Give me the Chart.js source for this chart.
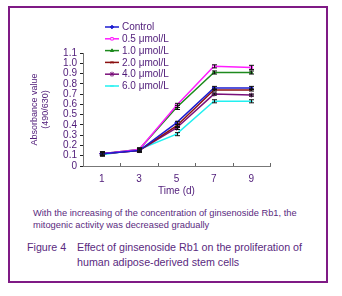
<!DOCTYPE html>
<html>
<head>
<meta charset="utf-8">
<script src="https://cdn.jsdelivr.net/npm/chart.js@4/dist/chart.umd.min.js"></script>
<style>
    body { margin: 0; background: #fff; }
    #wrap { position: relative; width: 342px; height: 296px; font-family: "Liberation Sans", Arial, sans-serif; }
    #frame { position: absolute; left: 8px; top: 6px; width: 320px; height: 277px; border: 2px solid #7f1a85; box-sizing: border-box; }
    #plot { position: absolute; left: 0; top: 0; width: 342px; height: 205px; }
    .note { position: absolute; left: 33px; top: 207px; font-size: 9.3px; line-height: 12px; color: #5a2a80; white-space: nowrap; }
    .fig { position: absolute; font-size: 10.7px; line-height: 15px; color: #5a2a80; white-space: nowrap; }
</style>
</head>
<body>
<div id="wrap">
    <div id="frame"></div>
    <div id="plot"><canvas id="growthChart"></canvas></div>
    <div class="note">With the increasing of the concentration of ginsenoside Rb1, the<br>mitogenic activity was decreased gradually</div>
    <div class="fig" style="left:27px; top:240px;">Figure 4</div>
    <div class="fig" style="left:77px; top:240px;">Effect of ginsenoside Rb1 on the proliferation of<br>human adipose-derived stem cells</div>
</div>
<script>
// Chart data
const days = ['1', '3', '5', '7', '9'];
const yTicks = [0, 0.1, 0.2, 0.3, 0.4, 0.5, 0.6, 0.7, 0.8, 0.9, 1.0, 1.1];

const seriesNames = ['Control', '0.5 \u03bcmol/L', '1.0 \u03bcmol/L', '2.0 \u03bcmol/L', '4.0 \u03bcmol/L', '6.0 \u03bcmol/L'];

const control  = [0.12, 0.15, 0.42, 0.76, 0.76];
const dose05   = [0.12, 0.16, 0.59, 0.97, 0.96];
const dose10   = [0.12, 0.16, 0.57, 0.91, 0.91];
const dose20   = [0.12, 0.15, 0.39, 0.74, 0.74];
const dose40   = [0.12, 0.15, 0.37, 0.70, 0.69];
const dose60   = [0.11, 0.16, 0.31, 0.63, 0.63];

const errControl = [0.02, 0.015, 0.015, 0.015, 0.015];
const err05      = [0.015, 0.015, 0.02, 0.015, 0.02];
const err10      = [0.015, 0.015, 0.02, 0.015, 0.015];
const err20      = [0.015, 0.015, 0.015, 0.01, 0.01];
const err40      = [0.015, 0.015, 0.015, 0.01, 0.01];
const err60      = [0.015, 0.015, 0.015, 0.015, 0.015];

const seriesData = [control, dose05, dose10, dose20, dose40, dose60];
const seriesErr = [errControl, err05, err10, err20, err40, err60];
const seriesColors = ['#1c1cd0', '#ff1cff', '#1e8a1e', '#8a1010', '#7a107a', '#22f0f0'];
const seriesPoints = ['rectRot', 'rect', 'triangle', 'crossRot', 'star', 'line'];
const seriesFill = ['#1c1cd0', '#ffffff', '#1e8a1e', '#8a1010', '#7a107a', '#22f0f0'];

const textColor = '#4e1a78';
const fontFamily = '"Liberation Sans", Arial, sans-serif';

const datasets = seriesNames.map(function(name, i) {
    return {
        label: name,
        data: seriesData[i],
        errors: seriesErr[i],
        borderColor: seriesColors[i],
        backgroundColor: seriesFill[i],
        borderWidth: 1.5,
        pointStyle: seriesPoints[i],
        pointRadius: i === 4 ? 2.5 : 1.8,
        pointBorderWidth: 1,
        tension: 0
    };
});

// Error bars drawn with the scales
const errorBars = {
    id: 'errorBars',
    afterDatasetsDraw(chart) {
        const ctx = chart.ctx;
        const x = chart.scales.x;
        const y = chart.scales.y;
        ctx.save();
        ctx.strokeStyle = '#111';
        ctx.lineWidth = 1;
        chart.data.datasets.forEach(function(ds) {
            ds.data.forEach(function(v, j) {
                const px = Math.round(x.getPixelForValue(j)) + 0.5;
                const top = y.getPixelForValue(v + ds.errors[j]);
                const bot = y.getPixelForValue(v - ds.errors[j]);
                ctx.beginPath();
                ctx.moveTo(px, top); ctx.lineTo(px, bot);
                ctx.moveTo(px - 2.5, top); ctx.lineTo(px + 2.5, top);
                ctx.moveTo(px - 2.5, bot); ctx.lineTo(px + 2.5, bot);
                ctx.stroke();
            });
        });
        ctx.restore();
    }
};

// Inner tick marks on the x axis and the legend box
const extras = {
    id: 'extras',
    afterDraw(chart) {
        const ctx = chart.ctx;
        const x = chart.scales.x;
        const half = (x.getPixelForValue(1) - x.getPixelForValue(0)) / 2;
        const bottom = chart.chartArea.bottom;
        ctx.save();
        ctx.strokeStyle = '#666';
        ctx.lineWidth = 1;
        for (let i = 0; i < days.length; i++) {
            const px = Math.round(x.getPixelForValue(i) + half) + 0.5;
            ctx.beginPath();
            ctx.moveTo(px, bottom - 3);
            ctx.lineTo(px, bottom);
            ctx.stroke();
        }

        // legend
        ctx.font = '10px ' + fontFamily;
        ctx.textBaseline = 'middle';
        ctx.textAlign = 'left';
        chart.data.datasets.forEach(function(ds, i) {
            const ly = 27 + i * 11.8;
            ctx.strokeStyle = ds.borderColor;
            ctx.lineWidth = 1.5;
            ctx.beginPath();
            ctx.moveTo(105, ly); ctx.lineTo(119, ly);
            ctx.stroke();
            ctx.fillStyle = ds.backgroundColor;
            ctx.lineWidth = 1;
            Chart.helpers.drawPoint(ctx, {
                pointStyle: ds.pointStyle,
                radius: ds.pointRadius,
                rotation: 0,
                borderWidth: 1
            }, 112, ly);
            ctx.fillStyle = textColor;
            ctx.fillText(ds.label, 122, ly + 0.5);
        });
        ctx.restore();
    }
};

new Chart(document.getElementById('growthChart'), {
    type: 'line',
    data: {
        labels: days,
        datasets: datasets
    },
    options: {
        responsive: true,
        maintainAspectRatio: false,
        animation: false,
        layout: {
            padding: { left: 0, top: 53, right: 72, bottom: 4 }
        },
        plugins: {
            legend: { display: false },
            tooltip: { enabled: false }
        },
        scales: {
            x: {
                type: 'category',
                offset: true,
                afterFit: function(s) { s.height = 35; },
                grid: { display: true, drawOnChartArea: false, drawTicks: false },
                border: { display: true, color: '#777', width: 1 },
                ticks: {
                    color: textColor,
                    font: { size: 10, family: fontFamily },
                    padding: 7
                },
                title: {
                    display: true,
                    text: 'Time (d)',
                    color: textColor,
                    font: { size: 10, family: fontFamily },
                    padding: { top: 0, bottom: 4 }
                }
            },
            y: {
                min: yTicks[0],
                max: yTicks[yTicks.length - 1],
                afterFit: function(s) { s.width = 83; },
                afterBuildTicks: function(s) {
                    s.ticks = yTicks.map(function(v) { return { value: v }; });
                },
                grid: { drawOnChartArea: false, tickLength: 3, color: '#222' },
                border: { display: true, color: '#777', width: 1 },
                ticks: {
                    autoSkip: false,
                    color: textColor,
                    font: { size: 10, family: fontFamily },
                    padding: 3,
                    callback: function(v) { return v === 0 ? '0' : v.toFixed(1); }
                },
                title: {
                    display: true,
                    text: ['Absorbance value', '(490/630)'],
                    color: textColor,
                    font: { size: 9, lineHeight: 1.25, family: fontFamily },
                    padding: { top: 29, bottom: 0 }
                }
            }
        }
    },
    plugins: [errorBars, extras]
});
</script>
</body>
</html>
